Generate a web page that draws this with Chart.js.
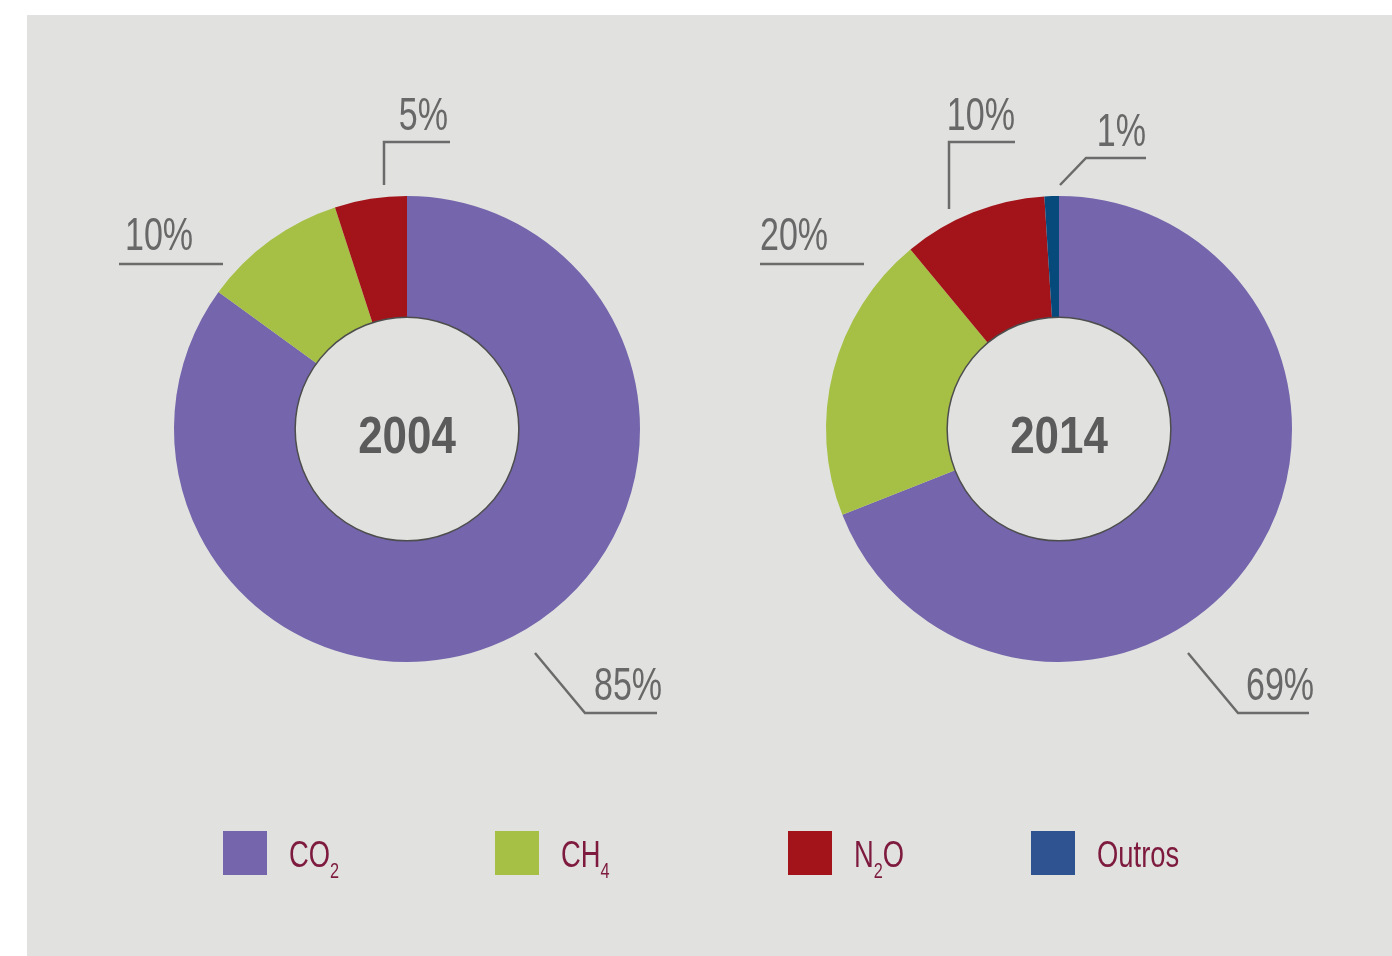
<!DOCTYPE html>
<html>
<head>
<meta charset="utf-8">
<script src="https://cdn.jsdelivr.net/npm/chart.js@4.4.0/dist/chart.umd.min.js"></script>
<style>
  html, body { margin: 0; padding: 0; background: #ffffff; }
  body { width: 1392px; height: 956px; position: relative; overflow: hidden; }
  #panel { position: absolute; left: 27px; top: 15px; width: 1365px; height: 941px; background: #e1e1df; }
  .cv { position: absolute; top: 0; }
  #c1 { left: 0; }
  #c2 { left: 696px; }
  .lg { position: absolute; top: 831px; height: 44px; }
  .sw { position: absolute; left: 0; top: 0; width: 44px; height: 44px; }
  .lt { position: absolute; top: 5px; white-space: nowrap; font-family: "Liberation Sans", Arial, sans-serif;
        font-size: 37px; line-height: 37px; color: #7d1a3e; transform-origin: 0 0; transform: scaleX(0.74); }
  .lt sub { font-size: 22px; vertical-align: -11px; line-height: 0; }
</style>
</head>
<body>
<div id="panel"></div>
<canvas id="c1" class="cv" width="696" height="956"></canvas>
<canvas id="c2" class="cv" width="696" height="956"></canvas>
<div id="legend"></div>
<script>
// ---- data ----
const categories = ["CO2", "CH4", "N2O", "Outros"];
const legendLabels = ["CO<sub>2</sub>", "CH<sub>4</sub>", "N<sub>2</sub>O", "Outros"];
const years = ["2004", "2014"];
const values2004 = [85, 10, 5, 0];
const values2014 = [69, 20, 10, 1];
const sliceColors = ["#7465ac", "#a5c044", "#a21419", "#064a7c"];
const legendColors = ["#7465ac", "#a5c044", "#a21419", "#2f5290"];

// label leader lines, relative to the doughnut centre (decoration only)
const leaders2004 = [
  { i: 0, path: [[128, 224], [178, 284], [250, 284]], tx: 187, ty: 271, align: "left" },
  { i: 1, path: [[-184, -165], [-288, -165]], tx: -282, ty: -179, align: "left" },
  { i: 2, path: [[-23, -244], [-23, -287], [43, -287]], tx: 41, ty: -299, align: "right" }
];
const leaders2014 = [
  { i: 0, path: [[129, 224], [179, 284], [250, 284]], tx: 187, ty: 271, align: "left" },
  { i: 1, path: [[-195, -165], [-299, -165]], tx: -299, ty: -179, align: "left" },
  { i: 2, path: [[-110, -220], [-110, -287], [-44, -287]], tx: -44, ty: -299, align: "right" },
  { i: 3, path: [[1, -244], [27, -271], [87, -271]], tx: 87, ty: -283, align: "right" }
];

const labelFont = '"Liberation Sans", Arial, sans-serif';

const decorPlugin = {
  id: "decor",
  afterDatasetsDraw(chart, args, opts) {
    const ctx = chart.ctx;
    const meta = chart.getDatasetMeta(0);
    const arc = meta.data[0];
    const cx = arc.x, cy = arc.y;
    const vals = chart.data.datasets[0].data;
    ctx.save();
    // inner hole outline
    ctx.beginPath();
    ctx.arc(cx, cy, arc.innerRadius, 0, Math.PI * 2);
    ctx.strokeStyle = "#4d4d4d";
    ctx.lineWidth = 1.5;
    ctx.stroke();
    // centre year
    ctx.fillStyle = "#5b5b5b";
    ctx.font = 'bold 52px ' + labelFont;
    ctx.textAlign = "center";
    ctx.textBaseline = "alphabetic";
    ctx.save();
    ctx.translate(cx, cy + 24);
    ctx.scale(0.845, 1);
    ctx.fillText(opts.year, 0, 0);
    ctx.restore();
    // leaders and labels
    ctx.strokeStyle = "#6b6b6b";
    ctx.lineWidth = 2.5;
    ctx.fillStyle = "#686868";
    ctx.font = '46px ' + labelFont;
    opts.leaders.forEach(l => {
      ctx.beginPath();
      l.path.forEach((p, k) => {
        if (k === 0) ctx.moveTo(cx + p[0], cy + p[1]); else ctx.lineTo(cx + p[0], cy + p[1]);
      });
      ctx.stroke();
      ctx.save();
      ctx.translate(cx + l.tx, cy + l.ty);
      ctx.scale(0.74, 1);
      ctx.textAlign = l.align;
      ctx.fillText(vals[l.i] + "%", 0, 0);
      ctx.restore();
    });
    ctx.restore();
  }
};

function makeChart(id, year, values, leaders, pad) {
  return new Chart(document.getElementById(id), {
    type: "doughnut",
    data: {
      labels: categories,
      datasets: [{
        data: values,
        backgroundColor: sliceColors,
        borderWidth: 0,
        hoverOffset: 0,
        offset: 0
      }]
    },
    options: {
      responsive: false,
      animation: false,
      events: [],
      cutout: "48%",
      layout: { padding: pad },
      plugins: {
        legend: { display: false },
        tooltip: { enabled: false },
        decor: { year: year, leaders: leaders }
      }
    },
    plugins: [decorPlugin]
  });
}

makeChart("c1", years[0], values2004, leaders2004, { left: 174, right: 56, top: 196, bottom: 294 });
makeChart("c2", years[1], values2014, leaders2014, { left: 130, right: 100, top: 196, bottom: 294 });

// legend
const legendX = [223, 495, 788, 1031];
const lg = document.getElementById("legend");
categories.forEach((c, k) => {
  const d = document.createElement("div");
  d.className = "lg";
  d.style.left = legendX[k] + "px";
  d.innerHTML = '<div class="sw" style="background:' + legendColors[k] + '"></div>' +
                '<div class="lt" style="left:66px">' + legendLabels[k] + '</div>';
  lg.appendChild(d);
});
</script>
</body>
</html>
